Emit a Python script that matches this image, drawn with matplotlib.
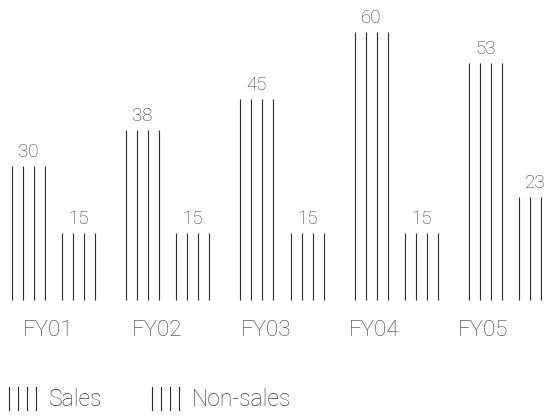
import matplotlib
matplotlib.use("Agg")
import matplotlib.pyplot as plt
from matplotlib.lines import Line2D

# Data
categories = ["FY01", "FY02", "FY03", "FY04", "FY05"]
sales = [30, 38, 45, 60, 53]
non_sales = [15, 15, 15, 15, 23]
series_names = ["Sales", "Non-sales"]

INK = "#2a2a2a"
TEXT = "#3a3a3a"

plt.rcParams["font.family"] = ["Roboto", "DejaVu Sans"]

fig = plt.figure(figsize=(5.51, 4.16), dpi=100)
ax = fig.add_axes([0, 0, 1, 1])
ax.set_xlim(-0.4694, 4.3555)
ax.set_ylim(-25.97, 67.16)
ax.axis("off")

bar_offset = 0.22          # distance of each series from the group centre
stroke_offsets = [-0.1445, -0.0482, 0.0482, 0.1445]  # four strokes per bar


def draw_bar(xc, value):
    xs = [xc + o for o in stroke_offsets]
    ax.vlines(xs, 0, value, colors=INK, linewidth=0.8)
    ax.annotate(str(value), (xc, value), xytext=(0, 5), textcoords="offset pixels",
                ha="center", va="bottom", fontsize=13.5, color=TEXT,
                fontweight="light")


for i, (s, n) in enumerate(zip(sales, non_sales)):
    draw_bar(i - bar_offset, s)
    draw_bar(i + bar_offset, n)

# Category labels sit on a slightly tighter spacing than the bar groups
for i, cat in enumerate(categories):
    ax.text(i * 0.953 - 0.049, -6.9, cat, ha="center", va="center",
            fontsize=16, color=TEXT, fontweight="light")

# Legend: four strokes followed by the series name
W, H = 551, 416
legend_x = [9, 152]
for lx, name in zip(legend_x, series_names):
    for k in range(4):
        x = (lx + 9 * k) / W
        fig.add_artist(Line2D([x, x], [1 - 387 / H, 1 - 410 / H], color=INK,
                              linewidth=0.8, transform=fig.transFigure))
    fig.text((lx + 39.5) / W, 1 - 399 / H, name, ha="left", va="center",
             fontsize=16.5, color=TEXT, fontweight="light")

fig.savefig("out.png", dpi=100)
